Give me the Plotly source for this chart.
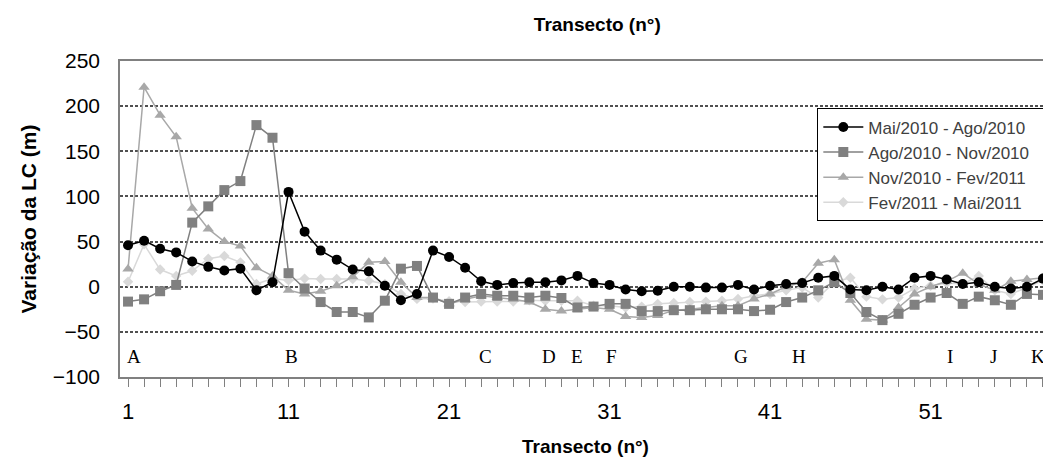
import plotly.graph_objects as go

transects = list(range(1, 59))

mai_ago_2010 = [46, 51, 42, 38, 28, 22, 18, 20, -4, 5,
                105, 61, 40, 30, 19, 17, 1, -15, -8, 40,
                33, 21, 6, 2, 4, 5, 5, 7, 12, 4,
                2, -3, -5, -4.5, 0, 0, -1, -1, 2, -3,
                1, 3, 4, 10, 12, -3, -4, 0, -3, 10,
                12, 8, 3, 5, 0, -2, 0, 9]

ago_nov_2010 = [-16.5, -14, -5, 2, 71, 89, 107, 117, 179, 165,
                15, -2, -17, -28, -28, -34, -15.5, 20, 23, -12,
                -19, -12, -8, -10, -10, -12, -10, -12.5, -23, -22,
                -19, -19, -27, -27, -26, -26, -25, -25, -25, -27,
                -25.5, -17, -12, -4, 5, -7, -28, -37, -30, -20,
                -12, -7, -19, -11, -15, -20, -8, -9]

nov_fev_2011 = [19.5, 221, 190, 166, 87, 64, 50, 45, 21, 12,
                -4, -8, -5, 1, 11, 27, 28, 5, -12, -12,
                -19, -14, -10, -12, -14, -17, -25, -27, -25, -23,
                -25, -33, -34, -32, -26, -25, -23, -21, -21, -13.5,
                -8, 0, 5, 26, 30, -15, -36, -37, -23, -8,
                0, 6, 15, 3, -4, 6, 8, 10]

fev_mai_2011 = [5.5, 47, 19, 12, 17.6, 31, 34, 27, 3, 9,
                7, 9, 8.5, 8.5, 8.5, 6.6, 3, -8, -13.5, -13,
                -16, -17, -16.5, -16.5, -16.5, -15, -15.5, -15.5, -15.5, -21,
                -21, -23, -22, -19, -18, -17, -16.5, -15.5, -13.5, -10,
                -8, -4, -1, -12, 5, 10, -11, -14, -12, -2,
                1, 4, 3, 12, -4, -8, -1, 7]

series_names = ["Mai/2010 - Ago/2010", "Ago/2010 - Nov/2010",
                "Nov/2010 - Fev/2011", "Fev/2011 - Mai/2011"]

letters = ["A", "B", "C", "D", "E", "F", "G", "H", "I", "J", "K"]
letter_positions = [1.4, 11.2, 23.3, 27.2, 29.0, 31.1, 39.2, 42.8, 52.2, 54.9, 57.7]
letter_level = -77

y_ticks = [250, 200, 150, 100, 50, 0, -50, -100]
x_tick_labels = [1, 11, 21, 31, 41, 51]

styles = [
    dict(color="#000000", symbol="circle", size=10, lw=1.5),
    dict(color="#808080", symbol="square", size=10, lw=1.5),
    dict(color="#a8a8a8", symbol="triangle-up", size=10, lw=1.5),
    dict(color="#d9d9d9", symbol="diamond", size=8, lw=1.5),
]

fig = go.Figure()
order = [3, 2, 1, 0]
all_series = [mai_ago_2010, ago_nov_2010, nov_fev_2011, fev_mai_2011]
pad = "\u00a0" * 3
for i in order:
    s = styles[i]
    fig.add_trace(go.Scatter(
        x=transects, y=all_series[i], name=series_names[i] + pad,
        mode="lines+markers",
        line=dict(color=s["color"], width=s["lw"]),
        marker=dict(color=s["color"], symbol=s["symbol"], size=s["size"]),
        legendrank=i + 1,
    ))

for lt, xp in zip(letters, letter_positions):
    fig.add_annotation(x=xp, y=letter_level, text=lt, showarrow=False,
                       font=dict(family="Liberation Serif, Times New Roman, serif",
                                 size=19, color="#000000"),
                       xanchor="center", yanchor="middle")

# page body has an 8px margin, so the figure is sized/offset to compensate
fig.update_layout(
    width=1043, height=453,
    margin=dict(l=112, r=0, t=53, b=84, autoexpand=False),
    plot_bgcolor="white", paper_bgcolor="white",
    font=dict(family="Liberation Sans, Arial, sans-serif", color="#000000"),
    title=dict(text="<b>Transecto (n°)</b>", x=0.565, xanchor="center",
               y=0.965, yanchor="middle", font=dict(size=19, color="#000000")),
    showlegend=True,
    legend=dict(x=0.749, y=0.85, xanchor="left", yanchor="top",
                bgcolor="white", bordercolor="#000000", borderwidth=1,
                font=dict(size=17, color="#404040"),
                tracegroupgap=0, itemwidth=40),
)

fig.update_xaxes(
    range=[0.5, 58.5],
    tickmode="array", tickvals=x_tick_labels,
    ticks="outside", ticklen=8, tickcolor="#808080", tickwidth=1,
    minor=dict(dtick=1, tick0=0, ticks="outside", ticklen=8,
               tickcolor="#808080", tickwidth=1),
    ticklabelstandoff=6,
    tickfont=dict(family="Liberation Sans Narrow, Arial Narrow, Liberation Sans, Arial",
                  size=22, color="#000000"),
    showline=True, linecolor="#808080", linewidth=1.5, mirror=True,
    showgrid=False, zeroline=False,
    title=dict(text="<b>Transecto (n°)</b>", font=dict(size=19, color="#000000"),
               standoff=17),
    automargin=False,
)

fig.update_yaxes(
    range=[-100, 250],
    tickmode="array", tickvals=y_ticks,
    ticks="", tickfont=dict(size=21, color="#000000"),
    ticklabelstandoff=14,
    showline=True, linecolor="#808080", linewidth=1.5,
    showgrid=True, gridcolor="#505050", gridwidth=1.5, griddash="3px,2px",
    zeroline=False,
    title=dict(text="<b>Variação da LC (m)</b>", font=dict(size=21, color="#000000"),
               standoff=10),
    automargin=False,
)

fig.write_html("out.html")
